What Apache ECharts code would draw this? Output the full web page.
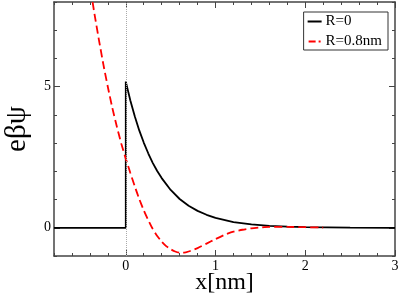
<!DOCTYPE html>
<html>
<head>
<meta charset="utf-8">
<script src="https://cdn.jsdelivr.net/npm/echarts@6/dist/echarts.min.js"></script>
<style>html,body{margin:0;padding:0;background:#fff}#c{width:399px;height:294px}</style>
</head>
<body>
<div id="c"></div>
<script>
// ---- data ----
const seriesNames = ['R=0', 'R=0.8nm'];
const xBlack = [-0.8, 0, 0, 0.05, 0.1, 0.15, 0.2, 0.25, 0.3, 0.35, 0.4, 0.5, 0.6, 0.7, 0.8, 0.9, 1.0, 1.2, 1.4, 1.6, 1.8, 2.0, 2.5, 3.0];
const yBlack = [0, 0, 5.18, 4.52, 3.95, 3.45, 3.02, 2.64, 2.30, 2.01, 1.76, 1.34, 1.02, 0.78, 0.60, 0.46, 0.35, 0.20, 0.12, 0.07, 0.04, 0.02, 0.005, 0.0];
const xRed = [-0.45, -0.4, -0.35, -0.3, -0.25, -0.2, -0.15, -0.1, -0.05, 0, 0.05, 0.1, 0.15, 0.2, 0.25, 0.3, 0.35, 0.4, 0.45, 0.5, 0.55, 0.6, 0.65, 0.7, 0.8, 0.9, 1.0, 1.1, 1.2, 1.3, 1.4, 1.5, 1.6, 1.8, 2.0, 2.2];
const yRed = [9.68, 8.61, 7.60, 6.67, 5.79, 4.99, 4.25, 3.59, 2.98, 2.45, 1.95, 1.47, 1.02, 0.62, 0.27, -0.04, -0.29, -0.49, -0.65, -0.76, -0.84, -0.88, -0.88, -0.84, -0.72, -0.56, -0.40, -0.25, -0.14, -0.07, -0.02, 0.01, 0.03, 0.03, 0.02, 0.01];
const xMajorTicks = [0, 1, 2, 3];
const yMajorTicks = [0, 5];
const xRange = [-0.8, 3];
const yRange = [-1, 8];

// ---- layout ----
const W = 399, H = 294, L = 54, R = 4, T = 2, B = 38;
const pw = W - L - R, ph = H - T - B;
const x0px = L + (xMajorTicks[0] - xRange[0]) / (xRange[1] - xRange[0]) * pw;
const yTopPx = T + (yRange[1] - yMajorTicks[yMajorTicks.length - 1]) / (yRange[1] - yRange[0]) * ph;
const yBotPx = T + (yRange[1] - yMajorTicks[0]) / (yRange[1] - yRange[0]) * ph;

const FONT = '"Liberation Serif", "Times New Roman", serif';
const AX = '#444';
const zip = (xs, ys) => xs.map((x, i) => [x, ys[i]]);

function minorAxis(pos, min, max, interval, extra) {
  return Object.assign({
    type: 'value', position: pos, min: min, max: max, interval: interval,
    axisLine: { show: true, onZero: false, lineStyle: { color: AX, width: 1.5 } },
    axisTick: { show: true, inside: true, length: 3, lineStyle: { color: AX, width: 1 } },
    axisLabel: { show: false }, splitLine: { show: false }
  }, extra || {});
}
function majorAxis(pos, min, max, interval, labels, extra) {
  return Object.assign({
    type: 'value', position: pos, min: min, max: max, interval: interval,
    axisLine: { show: false, onZero: false },
    axisTick: { show: true, inside: true, length: 6, lineStyle: { color: AX, width: 1 } },
    axisLabel: { show: labels, margin: 3, color: '#000', fontFamily: FONT, fontSize: 14 },
    splitLine: { show: false }
  }, extra || {});
}
const gridBase = { containLabel: false, outerBoundsMode: 'none' };

const chart = echarts.init(document.getElementById('c'));
chart.setOption({
  animation: false,
  backgroundColor: '#fff',
  grid: [
    Object.assign({ left: L, right: R, top: T, bottom: B }, gridBase),
    Object.assign({ left: x0px, right: R, top: T, bottom: B }, gridBase),
    Object.assign({ left: L, right: R, top: yTopPx, bottom: H - yBotPx }, gridBase)
  ],
  xAxis: [
    minorAxis('bottom', xRange[0], xRange[1], 0.2, {
      gridIndex: 0, name: 'x[nm]', nameLocation: 'middle', nameGap: 15,
      nameTextStyle: { fontFamily: FONT, fontSize: 24, color: '#000' }
    }),
    minorAxis('top', xRange[0], xRange[1], 0.2, { gridIndex: 0 }),
    majorAxis('bottom', xMajorTicks[0], xMajorTicks[xMajorTicks.length - 1], 1, true, { gridIndex: 1 }),
    majorAxis('top', xMajorTicks[0], xMajorTicks[xMajorTicks.length - 1], 1, false, { gridIndex: 1 }),
    { type: 'value', gridIndex: 2, show: false, min: xRange[0], max: xRange[1] }
  ],
  yAxis: [
    minorAxis('left', yRange[0], yRange[1], 1, {
      gridIndex: 0, name: 'eβψ', nameLocation: 'middle', nameGap: 22,
      nameTextStyle: { fontFamily: FONT, fontSize: 29, color: '#000' }
    }),
    minorAxis('right', yRange[0], yRange[1], 1, { gridIndex: 0 }),
    { type: 'value', gridIndex: 1, show: false, min: yRange[0], max: yRange[1] },
    majorAxis('left', yMajorTicks[0], yMajorTicks[yMajorTicks.length - 1], 5, true, { gridIndex: 2 }),
    majorAxis('right', yMajorTicks[0], yMajorTicks[yMajorTicks.length - 1], 5, false, { gridIndex: 2 })
  ],
  legend: {
    orient: 'vertical', right: 11, top: 12,
    borderColor: '#333', borderWidth: 1, padding: [2, 6, 1, 4],
    itemWidth: 14, itemHeight: 2, itemGap: 5,
    textStyle: { fontFamily: FONT, fontSize: 15, color: '#000', padding: [0, 0, 0, -1] },
    data: [
      { name: seriesNames[0], icon: 'rect' },
      { name: seriesNames[1], icon: 'path://M0,0H7V2H0Z M10,0H12V2H10Z' }
    ]
  },
  series: [
    {
      name: seriesNames[0], type: 'line', xAxisIndex: 0, yAxisIndex: 0,
      data: zip(xBlack, yBlack), symbol: 'none', z: 3,
      lineStyle: { color: '#000', width: 1.8 }, itemStyle: { color: '#000' },
      markLine: {
        silent: true, symbol: ['none', 'none'], label: { show: false },
        lineStyle: { type: 'dotted', color: '#aaa', width: 1 },
        data: [{ xAxis: 0 }]
      }
    },
    {
      name: seriesNames[1], type: 'line', xAxisIndex: 0, yAxisIndex: 0,
      data: zip(xRed, yRed), symbol: 'none', smooth: 0.2, z: 4, clip: true,
      lineStyle: { color: '#ff0000', width: 1.8, type: [8, 4] }, itemStyle: { color: '#ff0000' }
    }
  ]
});
</script>
</body>
</html>
